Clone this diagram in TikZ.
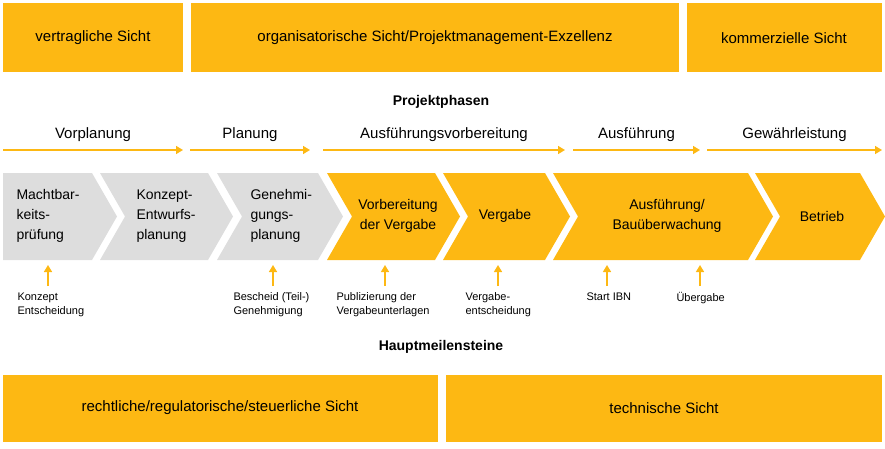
\documentclass[tikz,border=0pt]{standalone}
\usepackage{fontspec}
\setmainfont{Liberation Sans}
\usetikzlibrary{arrows.meta}
\definecolor{gold}{RGB}{253,184,19}
\definecolor{lgrey}{RGB}{221,221,221}
\tikzset{
  box/.style={fill=gold,draw=none},
  boxtxt/.style={font=\fontsize{15}{18}\selectfont,anchor=center},
  phase/.style={font=\fontsize{15}{18}\selectfont},
  parr/.style={draw=gold,line width=1.5pt,-{Triangle[length=7pt,width=8pt]}},
  marr/.style={draw=gold,line width=1.5pt,-{Triangle[length=7pt,width=8pt]}},
  ctxt/.style={font=\fontsize{14}{20}\selectfont,align=left},
  mtxt/.style={font=\fontsize{11}{14}\selectfont,align=left,anchor=north west},
  ttl/.style={font=\bfseries\fontsize{14}{17}\selectfont}
}
\begin{document}
\begin{tikzpicture}[x=1pt,y=-1pt]
\useasboundingbox (0,0) rectangle (885,448);
% top boxes
\fill[box] (3,3) rectangle (183,72);
\fill[box] (191,3) rectangle (679,72);
\fill[box] (687,3) rectangle (882,72);
\node[boxtxt] (t1) at (93,38) {vertragliche Sicht};
\node[boxtxt] (t2) at (435,38) {organisatorische Sicht/Projektmanagement-Exzellenz};
\node[boxtxt] (t3) at (784,38) {kommerzielle Sicht};
\node[ttl] (pp) at (441,102) {Projektphasen};
% phase arrows
\foreach \a/\b/\n/\t in {3/183/p1/Vorplanung,190/310/p2/Planung,323/565/p3/Ausführungsvorbereitung,573/700/p4/Ausführung,707/882/p5/Gewährleistung}{
  \coordinate (\n s) at (\a,150);
  \coordinate (\n e) at (\b,150);
  \draw[parr] (\n s) -- (\n e);
  \node[phase] (\n) at ({(\a+\b)/2},135) {\t};
}
% chevrons
\def\yt{173}\def\yb{260}\def\ym{216.5}\def\d{25}
\fill[lgrey] (3,\yt) -- (92,\yt) -- (117,\ym) -- (92,\yb) -- (3,\yb) -- cycle;
\foreach \l/\r/\c in {100/208/lgrey,217/318/lgrey,327/435/gold,443/545/gold,553/748/gold,755/860/gold}{
  \fill[\c] (\l,\yt) -- (\r,\yt) -- (\r+\d,\ym) -- (\r,\yb) -- (\l,\yb) -- (\l+\d,\ym) -- cycle;
}
\node[ctxt,anchor=west] (c1) at (13,216) {Machtbar-\\keits-\\prüfung};
\node[ctxt,anchor=west] (c2) at (133,216) {Konzept-\\Entwurfs-\\planung};
\node[ctxt,anchor=west] (c3) at (247,216) {Genehmi-\\gungs-\\planung};
\node[ctxt,align=center] (c4) at (398,216) {Vorbereitung\\der Vergabe};
\node[ctxt] (c5) at (505,216) {Vergabe};
\node[ctxt,align=center] (c6) at (667,216) {Ausführung/\\Bauüberwachung};
\node[ctxt] (c7) at (822,216) {Betrieb};
% milestones
\foreach \x/\lx/\n/\t in {48/14/m1/{Konzept\\Entscheidung},273/230/m2/{Bescheid (Teil-)\\Genehmigung},385/333/m3/{Publizierung der\\Vergabeunterlagen},498/462/m4/{Vergabe-\\entscheidung},607/583/m5/{Start IBN},700/673/m6/{Übergabe}}{
  \node[mtxt] (\n) at (\lx,289) {\t};
  \coordinate (\n b) at (\x,286);
  \coordinate (\n t) at (\x,265);
  \draw[marr] (\n b) -- (\n t);
}
\node[ttl] (hm) at (441,347) {Hauptmeilensteine};
% bottom boxes
\fill[box] (3,375) rectangle (438,442);
\fill[box] (446,375) rectangle (882,442);
\node[boxtxt] (b1) at (220,408) {rechtliche/regulatorische/steuerliche Sicht};
\node[boxtxt] (b2) at (664,408) {technische Sicht};
\end{tikzpicture}
\end{document}
